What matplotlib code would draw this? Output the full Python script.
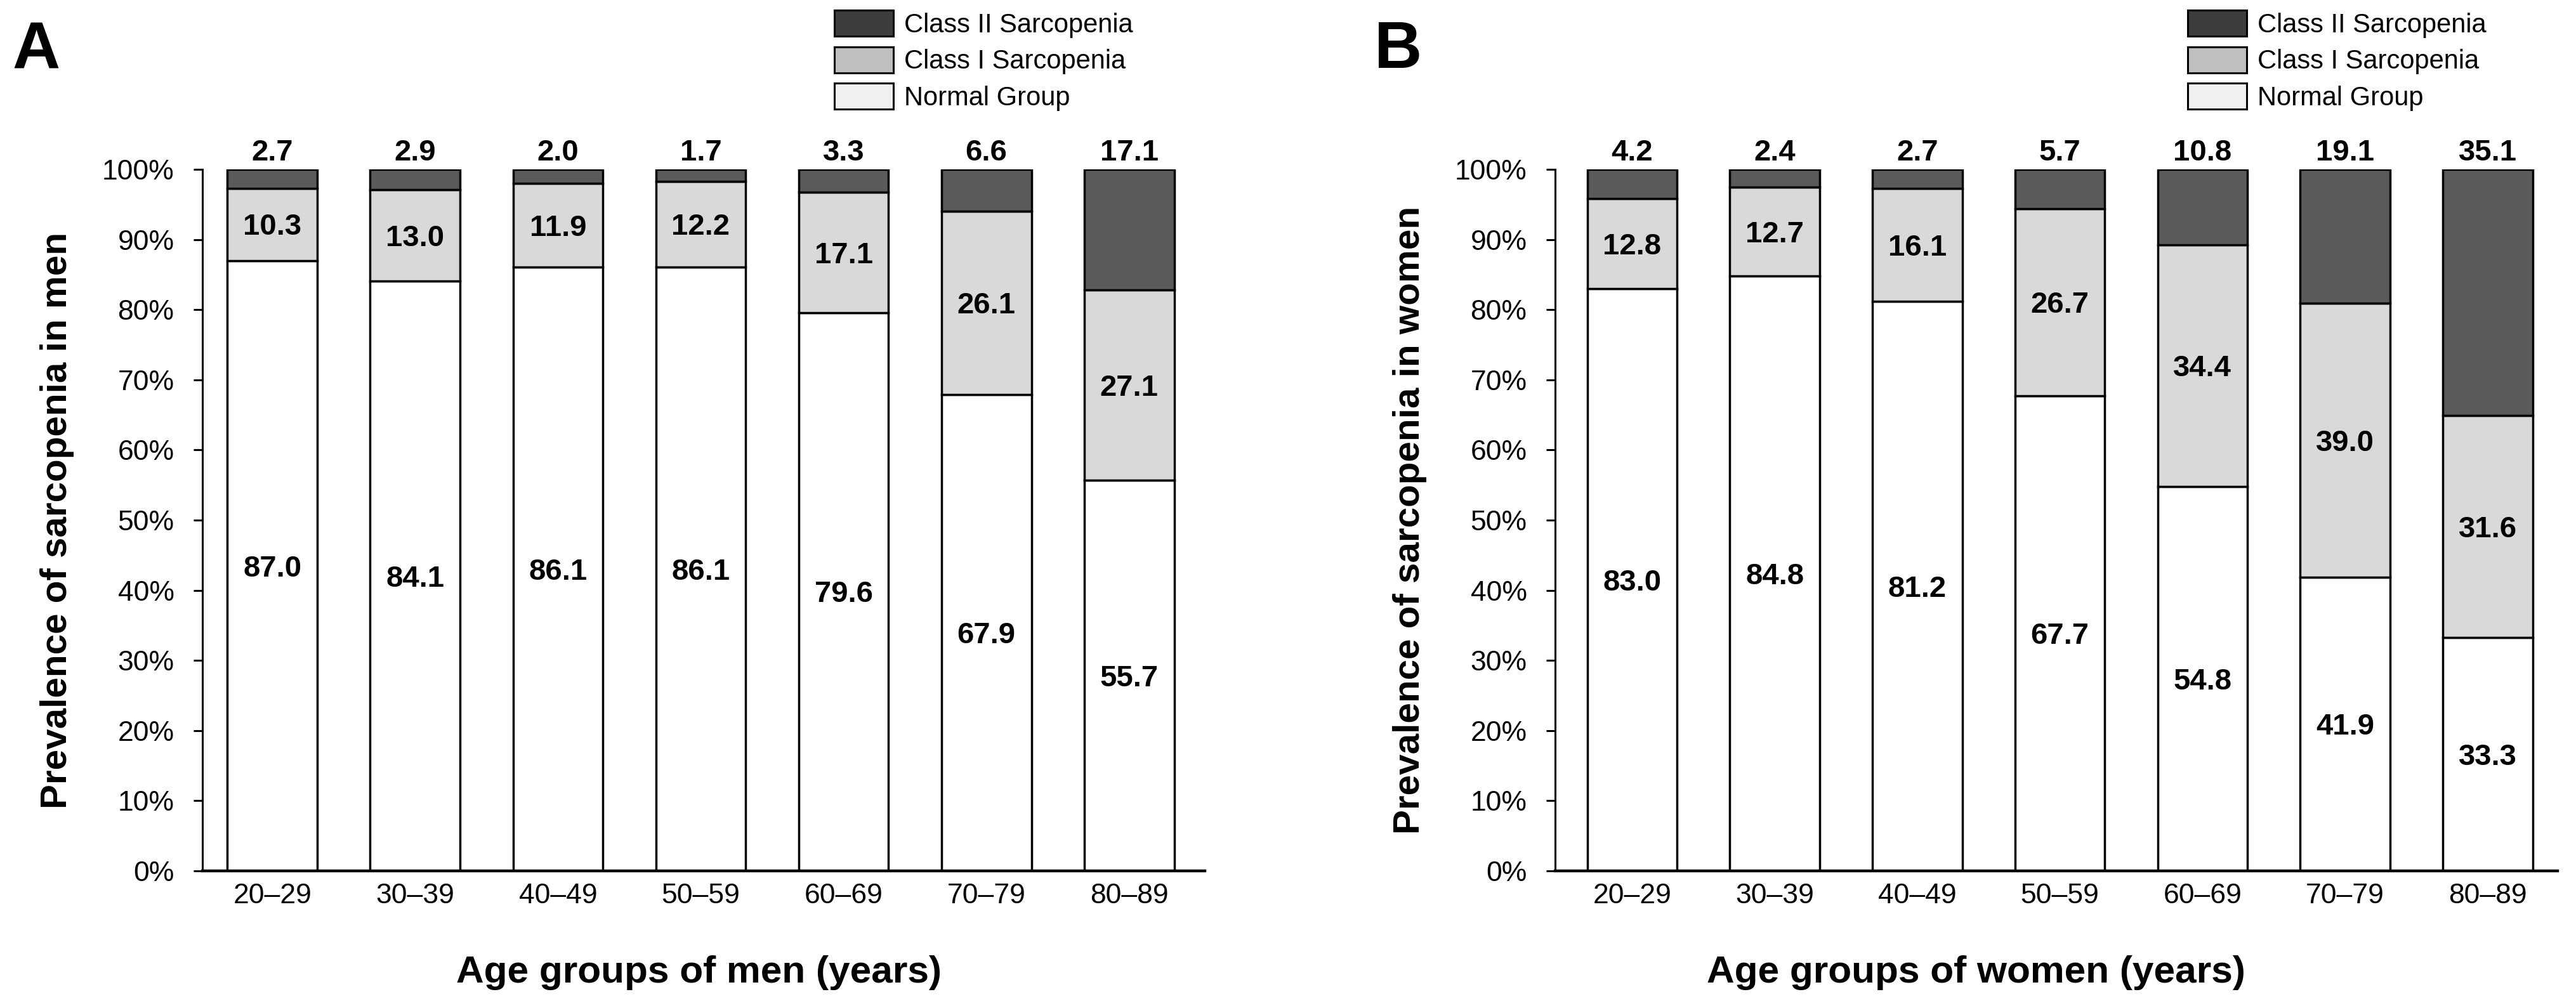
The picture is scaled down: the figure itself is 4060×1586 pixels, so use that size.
import matplotlib
matplotlib.use('Agg')
import matplotlib.pyplot as plt
from matplotlib.patches import Patch

plt.rcParams['font.family'] = ['Liberation Sans', 'DejaVu Sans']

age_groups = ['20–29', '30–39', '40–49', '50–59', '60–69', '70–79', '80–89']

men_normal = [87.0, 84.1, 86.1, 86.1, 79.6, 67.9, 55.7]
men_class1 = [10.3, 13.0, 11.9, 12.2, 17.1, 26.1, 27.1]
men_class2 = [2.7, 2.9, 2.0, 1.7, 3.3, 6.6, 17.1]

women_normal = [83.0, 84.8, 81.2, 67.7, 54.8, 41.9, 33.3]
women_class1 = [12.8, 12.7, 16.1, 26.7, 34.4, 39.0, 31.6]
women_class2 = [4.2, 2.4, 2.7, 5.7, 10.8, 19.1, 35.1]

legend_labels = ['Class II Sarcopenia', 'Class I Sarcopenia', 'Normal Group']
yticks = list(range(0, 101, 10))

W, H = 4060, 1586
fig = plt.figure(figsize=(W / 100, H / 100), dpi=100)

c_dark = '#5a5a5a'
c_mid = '#d9d9d9'
c_white = '#ffffff'


def panel(left, normal, class1, class2, letter, ylab, xlab, xlim, xlab_x, leg_x, letter_x):
    ax = fig.add_axes([left / W, 1 - 1373 / H, 1580 / W, 1106 / H])
    x = list(range(len(age_groups)))
    bw = 0.63
    ew = 2.5
    ax.bar(x, normal, bw, color=c_white, edgecolor='black', linewidth=ew)
    ax.bar(x, class1, bw, bottom=normal, color=c_mid, edgecolor='black', linewidth=ew)
    base2 = [a + b for a, b in zip(normal, class1)]
    # top segment fills up to 100% (rounding in source values)
    top = [100 - b for b in base2]
    ax.bar(x, top, bw, bottom=base2, color=c_dark, edgecolor='black', linewidth=ew)

    for i in x:
        ax.annotate(f'{normal[i]:.1f}', (i, normal[i] / 2), xytext=(0, -12),
                    textcoords='offset points', ha='center', va='baseline',
                    fontsize=34, fontweight='bold')
        ax.annotate(f'{class1[i]:.1f}', (i, normal[i] + class1[i] / 2), xytext=(0, -12),
                    textcoords='offset points', ha='center', va='baseline',
                    fontsize=34, fontweight='bold')
        ax.annotate(f'{class2[i]:.1f}', (i, 100), xytext=(0, 10),
                    textcoords='offset points', ha='center', va='baseline',
                    fontsize=34, fontweight='bold', annotation_clip=False)

    ax.set_xlim(*xlim)
    ax.set_ylim(0, 100)
    ax.set_yticks(yticks)
    ax.set_yticklabels([f'{v}%' for v in yticks])
    ax.set_xticks(x)
    ax.set_xticklabels(age_groups)
    ax.tick_params(axis='y', direction='out', length=10, width=2.2, pad=22, labelsize=32)
    ax.tick_params(axis='x', length=0, pad=14, labelsize=32)
    for s in ['top', 'right']:
        ax.spines[s].set_visible(False)
    ax.spines['left'].set_linewidth(2.2)
    ax.spines['bottom'].set_linewidth(3.2)

    ax.text(-229 / 1580, 0.5, ylab, transform=ax.transAxes, rotation=90,
            ha='center', va='center', fontsize=42, fontweight='bold')
    ax.text(xlab_x, -0.145, xlab, transform=ax.transAxes,
            ha='center', va='center', fontsize=43.5, fontweight='bold')

    handles = [Patch(facecolor='#3d3d3d', edgecolor='black', linewidth=2.2),
               Patch(facecolor='#bfbfbf', edgecolor='black', linewidth=2.2),
               Patch(facecolor='#f0f0f0', edgecolor='black', linewidth=2.2)]
    ax.legend(handles, legend_labels, loc='upper left',
              bbox_to_anchor=(leg_x / W, 1 - 16 / H), bbox_transform=fig.transFigure,
              frameon=False, borderpad=0, borderaxespad=0, fontsize=30,
              handlelength=2.23, handleheight=1.13, labelspacing=0.34, handletextpad=0.4)

    fig.text(letter_x / W, 1 - 107 / H, letter, fontsize=75, fontweight='bold',
             ha='left', va='baseline')
    return ax


panel(319, men_normal, men_class1, men_class2, 'A',
      'Prevalence of sarcopenia in men', 'Age groups of men (years)',
      (-0.49, 6.53), 0.495, 1315, 19)
panel(2451, women_normal, women_class1, women_class2, 'B',
      'Prevalence of sarcopenia in women', 'Age groups of women (years)',
      (-0.54, 6.49), 0.42, 3448, 2166)

fig.savefig('out.png', dpi=100)
